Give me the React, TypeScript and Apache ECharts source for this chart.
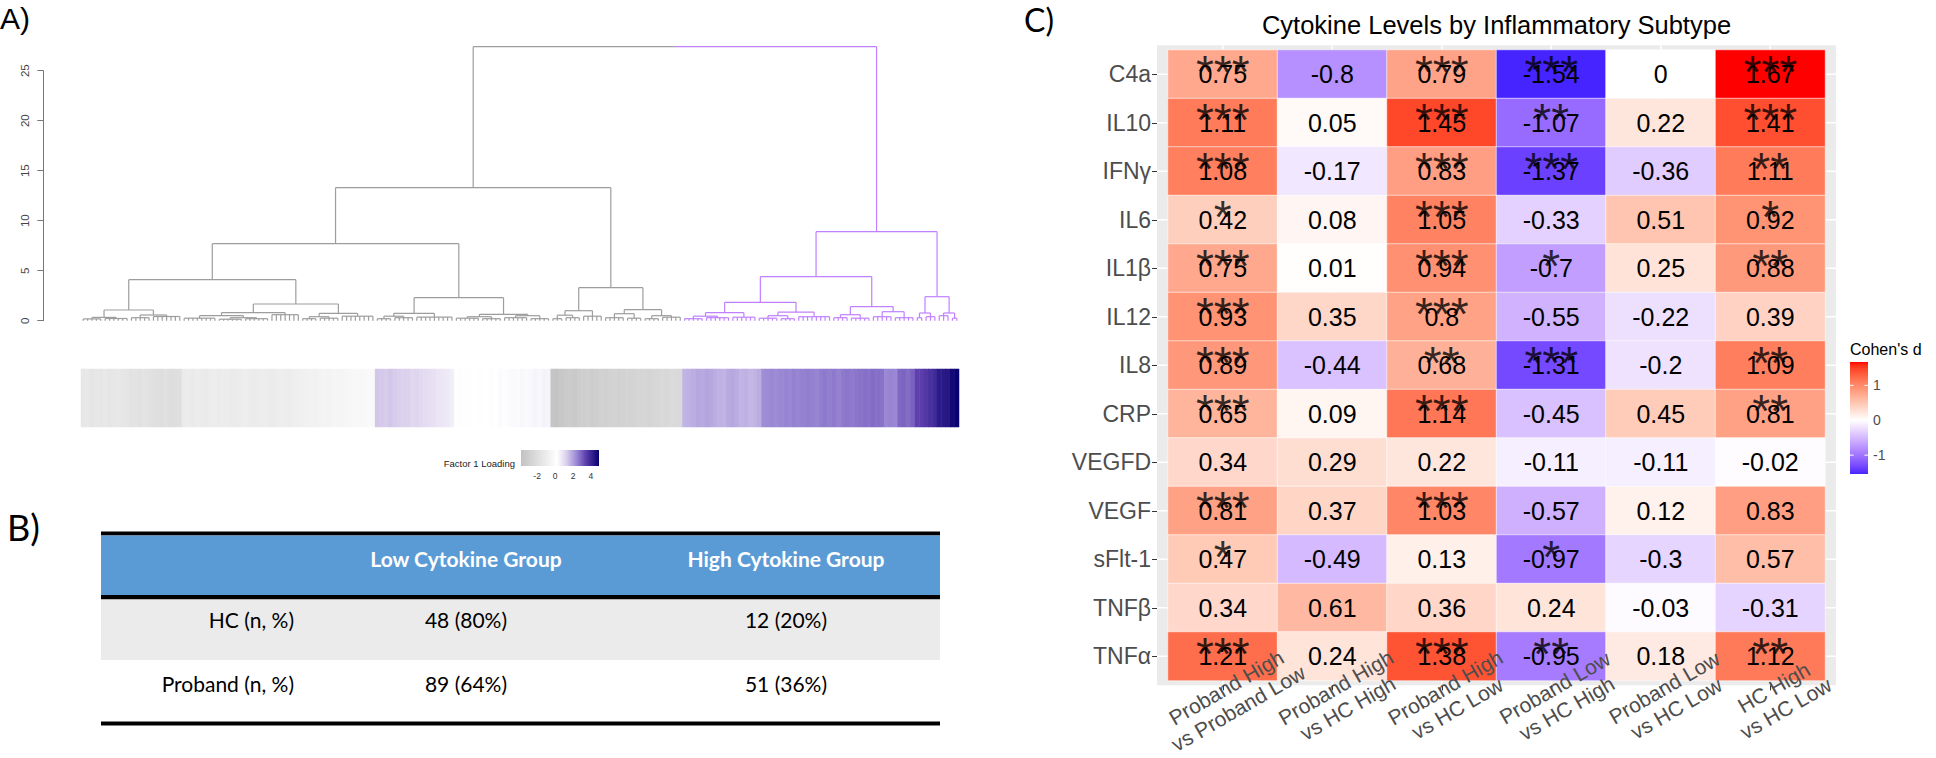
import React, { useEffect, useRef } from "react";
import * as echarts from "echarts";

const FONT = "'Liberation Sans', Arial, sans-serif";
const FONT_T = "Lato, 'Open Sans', sans-serif";

// ---------------- Panel A data ----------------
// merge node: [height, left, right]; terminal group: [height, nLeaves]
const dendrogramTree: any[] = [27.4,
  [13.3,
    [7.7,
      [4.1,
        [1.07, [0.33, [0.18, 5], [0.22, 6]], [0.57, [0.3, 5], [0.42, 7]]],
        [1.67,
          [0.8, [0.5, [0.25, 8], [0.3, [0.15, 6], [0.2, 6]]], [0.6, 7]],
          [0.74, [0.4, [0.2, 4], [0.25, 5]], [0.45, 8]]]],
      [2.3,
        [0.74, [0.45, [0.2, 4], [0.3, 5]], [0.35, 9]],
        [0.64, [0.4, [0.25, 6], [0.2, 5]], [0.5, [0.3, 6], [0.2, 5]]]]],
    [3.3,
      [1.0, [0.55, [0.2, 3], [0.3, 4]], [0.45, 5]],
      [1.1, [0.7, [0.3, 5], [0.25, 4]], [0.5, [0.2, 4], [0.35, 5]]]]],
  [8.9,
    [4.4,
      [1.84,
        [0.8, [0.45, [0.2, 5], [0.3, 6]], [0.35, 6]],
        [0.85, [0.5, [0.25, 5], [0.2, 4]], [0.4, 8]]],
      [1.4, [0.6, [0.3, 4], [0.25, 5]], [0.9, [0.4, 5], [0.3, 5]]]],
    [2.4, [0.77, [0.3, 2], [0.4, 3]], [0.77, [0.5, 3], [0.25, 2]]]]];

const clusterColors = ["#9d9d9d", "#c080ff"];
const dendroTicks = [0, 5, 10, 15, 20, 25];

const factorLoadings: number[] = [
  -1.4, -1.3, -1.5, -1.4, -1.45, -1.35, -1.5, -1.4, -1.3, -1.45, -1.5,
  -1.7, -1.65, -1.75, -1.6, -1.7, -1.8,
  -1.9, -2.0, -1.85, -1.95, -2.0, -1.9,
  -1.1, -1.0, -1.15, -1.05, -1.1, -1.2, -1.0, -0.95, -1.1, -1.05, -1.0, -1.15, -1.1, -1.0,
  -0.9, -1.05, -1.1, -1.0, -0.95, -1.05, -1.1, -1.0, -0.9, -0.95, -1.0, -0.9, -0.85,
  -0.75, -0.7, -0.65, -0.7, -0.6, -0.55, -0.6, -0.5, -0.45, -0.5, -0.4, -0.35, -0.3, -0.3, -0.25, -0.2, -0.2,
  1.4, 1.35, 1.3, 1.4, 1.3, 1.25, 1.2, 1.2, 1.1, 1.15, 1.05, 1.0, 0.95, 0.9, 0.8, 0.75, 0.7, 0.6,
  0.1, 0.05, 0.15, 0.1, 0.2, 0.1, 0.15, 0.2, 0.25, 0.2, 0.3, 0.25, 0.3, 0.35, 0.3, 0.4, 0.35, 0.4, 0.45, 0.4, 0.5, 0.45,
  -3.6, -3.7, -3.5, -3.3, -3.2, -3.35, -3.1, -3.0, -2.9, -3.05, -2.95, -2.85, -2.9, -2.8, -2.7,
  -2.85, -2.75, -2.6, -2.7, -2.65, -2.55, -2.5, -2.6, -2.45, -2.4, -2.3, -2.35, -2.25, -2.2, -2.3,
  1.7, 1.75, 1.8, 1.9, 1.85, 1.95, 1.9, 1.8, 1.75, 1.7, 1.85, 1.9, 1.8, 1.7, 1.75, 1.65, 1.7, 1.8,
  2.3, 2.35, 2.4, 2.35, 2.4, 2.45, 2.4, 2.5, 2.45, 2.5, 2.55, 2.5, 2.45, 2.55, 2.6, 2.55, 2.6, 2.5, 2.6, 2.65, 2.6, 2.65, 2.7,
  2.75, 2.7, 2.8, 2.75, 2.7,
  2.4, 2.45, 2.4,
  2.85, 2.9, 2.8, 2.95,
  3.4, 3.45, 3.6,
  3.75, 3.9,
  4.25, 4.3, 4.35,
  4.7, 4.85,
];

const loadingColorStops: [number, string][] = [
  [-3.8, "#c2c2c2"], [0.2, "#ffffff"], [1.2, "#ddd3ee"], [2.4, "#9a88d4"], [3.4, "#5e40ae"], [4.9, "#06006e"],
];
const loadingTicks = [-2, 0, 2, 4];

// ---------------- Panel B data ----------------
const tableHeaders = ["Low Cytokine Group", "High Cytokine Group"];
const tableRowLabels = ["HC (n, %)", "Proband (n, %)"];
const lowGroupCounts = ["48 (80%)", "89 (64%)"];
const highGroupCounts = ["12 (20%)", "51 (36%)"];

// ---------------- Panel C data ----------------
const cytokines = ["C4a", "IL10", "IFNγ", "IL6", "IL1β", "IL12", "IL8", "CRP", "VEGFD", "VEGF", "sFlt-1", "TNFβ", "TNFα"];
const comparisons = [
  "Proband High\nvs Proband Low",
  "Proband High\nvs HC High",
  "Proband High\nvs HC Low",
  "Proband Low\nvs HC High",
  "Proband Low\nvs HC Low",
  "HC High\nvs HC Low",
];
const cohensD: number[][] = [
  [0.75, -0.8, 0.79, -1.54, 0, 1.67],
  [1.11, 0.05, 1.45, -1.07, 0.22, 1.41],
  [1.08, -0.17, 0.83, -1.37, -0.36, 1.11],
  [0.42, 0.08, 1.05, -0.33, 0.51, 0.92],
  [0.75, 0.01, 0.94, -0.7, 0.25, 0.88],
  [0.93, 0.35, 0.8, -0.55, -0.22, 0.39],
  [0.89, -0.44, 0.68, -1.31, -0.2, 1.09],
  [0.65, 0.09, 1.14, -0.45, 0.45, 0.81],
  [0.34, 0.29, 0.22, -0.11, -0.11, -0.02],
  [0.81, 0.37, 1.03, -0.57, 0.12, 0.83],
  [0.47, -0.49, 0.13, -0.97, -0.3, 0.57],
  [0.34, 0.61, 0.36, 0.24, -0.03, -0.31],
  [1.21, 0.24, 1.38, -0.95, 0.18, 1.12],
];
const significance: string[][] = [
  ["***", "", "***", "***", "", "***"],
  ["***", "", "***", "**", "", "***"],
  ["***", "", "***", "***", "", "**"],
  ["*", "", "***", "", "", "*"],
  ["***", "", "***", "*", "", "**"],
  ["***", "", "***", "", "", ""],
  ["***", "", "**", "***", "", "**"],
  ["***", "", "***", "", "", "**"],
  ["", "", "", "", "", ""],
  ["***", "", "***", "", "", ""],
  ["*", "", "", "*", "", ""],
  ["", "", "", "", "", ""],
  ["***", "", "***", "**", "", "**"],
];
const cohenLegendTicks = [1, 0, -1];

// ---------------- colour helpers ----------------
function hexToRgb(hex: string): number[] {
  const h = hex.replace("#", "");
  return [0, 2, 4].map((i) => parseInt(h.slice(i, i + 2), 16));
}
function rgbToHex(rgb: number[]): string {
  return "#" + rgb.map((v) => Math.max(0, Math.min(255, Math.round(v))).toString(16).padStart(2, "0")).join("");
}
const toLin = (c: number) => { c /= 255; return c <= 0.04045 ? c / 12.92 : Math.pow((c + 0.055) / 1.055, 2.4); };
const fromLin = (c: number) => 255 * (c <= 0.0031308 ? 12.92 * c : 1.055 * Math.pow(c, 1 / 2.4) - 0.055);
const WREF = [0.95047, 1, 1.08883];
function rgbToLab(rgb: number[]): number[] {
  const [r, g, b] = rgb.map(toLin);
  const X = (0.4124564 * r + 0.3575761 * g + 0.1804375 * b) / WREF[0];
  const Y = (0.2126729 * r + 0.7151522 * g + 0.072175 * b) / WREF[1];
  const Z = (0.0193339 * r + 0.119192 * g + 0.9503041 * b) / WREF[2];
  const f = (t: number) => (t > 216 / 24389 ? Math.cbrt(t) : ((24389 / 27) * t + 16) / 116);
  const fx = f(X), fy = f(Y), fz = f(Z);
  return [116 * fy - 16, 500 * (fx - fy), 200 * (fy - fz)];
}
function labToRgb(lab: number[]): number[] {
  const [L, a, b] = lab;
  const fy = (L + 16) / 116, fx = fy + a / 500, fz = fy - b / 200;
  const inv = (t: number) => (t * t * t > 216 / 24389 ? t * t * t : (116 * t - 16) / (24389 / 27));
  const X = inv(fx) * WREF[0], Y = inv(fy) * WREF[1], Z = inv(fz) * WREF[2];
  const r = 3.2404542 * X - 1.5371385 * Y - 0.4985314 * Z;
  const g = -0.969266 * X + 1.8760108 * Y + 0.041556 * Z;
  const bb = 0.0556434 * X - 0.2040259 * Y + 1.0572252 * Z;
  return [r, g, bb].map((v) => fromLin(Math.max(0, Math.min(1, v))));
}
function labMix(c1: string, c2: string, t: number): string {
  const a = rgbToLab(hexToRgb(c1)), b = rgbToLab(hexToRgb(c2));
  return rgbToHex(labToRgb(a.map((v, i) => v + (b[i] - v) * t)));
}
const flatD = cohensD.flat();
const cMin = Math.min(...flatD), cMax = Math.max(...flatD);
const cAbs = Math.max(Math.abs(cMin), Math.abs(cMax));
function cohenColor(v: number): string {
  const t = v / (2 * cAbs) + 0.5;
  return t < 0.5 ? labMix("#0000ff", "#ffffff", t / 0.5) : labMix("#ffffff", "#ff0000", (t - 0.5) / 0.5);
}
function loadingColor(v: number): string {
  const s = loadingColorStops;
  if (v <= s[0][0]) return s[0][1];
  for (let i = 1; i < s.length; i++) {
    if (v <= s[i][0]) {
      const t = (v - s[i - 1][0]) / (s[i][0] - s[i - 1][0]);
      const a = hexToRgb(s[i - 1][1]), b = hexToRgb(s[i][1]);
      return rgbToHex(a.map((x, k) => x + (b[k] - x) * t));
    }
  }
  return s[s.length - 1][1];
}
const N_STOPS = 48;
const lMin = loadingColorStops[0][0], lMax = loadingColorStops[loadingColorStops.length - 1][0];
const loadingPalette = Array.from({ length: N_STOPS + 1 }, (_, k) => loadingColor(lMin + ((lMax - lMin) * k) / N_STOPS));
const cohenPalette = Array.from({ length: N_STOPS + 1 }, (_, k) => cohenColor(cMin + ((cMax - cMin) * k) / N_STOPS));

// ---------------- dendrogram layout (leaf index units, heights) ----------------
function buildSegments(tree: any[]) {
  const segs: number[][] = [];
  const walk = (node: any[], start: number, col: number): { x: number; h: number; n: number } => {
    if (node.length === 2) {
      const [h, n] = node as number[];
      const xs = Array.from({ length: n }, (_, k) => start + k + 0.5);
      if (n === 1) return { x: xs[0], h: 0, n: 1 };
      xs.forEach((x) => segs.push([x, 0, x, h, col]));
      segs.push([xs[0], h, xs[n - 1], h, col]);
      return { x: (xs[0] + xs[n - 1]) / 2, h, n };
    }
    const [h, a, b] = node;
    const L = walk(a, start, col);
    const R = walk(b, start + L.n, col);
    segs.push([L.x, L.h, L.x, h, col], [L.x, h, R.x, h, col], [R.x, R.h, R.x, h, col]);
    return { x: (L.x + R.x) / 2, h, n: L.n + R.n };
  };
  const [h, a, b] = tree;
  const L = walk(a, 0, 0);
  const R = walk(b, L.n, 1);
  const mid = (L.x + R.x) / 2;
  segs.push([L.x, L.h, L.x, h, 0], [L.x, h, mid, h, 0], [mid, h, R.x, h, 1], [R.x, R.h, R.x, h, 1]);
  return { segs, nLeaves: L.n + R.n };
}

// ---------------- layout ----------------
const A_LEFT = 81, A_W = 878, D_TOP = 70.7, D_H = 250, S_TOP = 369, S_H = 58;
const C_LEFT = 1168, C_TOP = 50, C_W = 657, C_H = 630.5;
const colW = C_W / comparisons.length, rowH = C_H / cytokines.length;

function buildOption() {
  const { segs, nLeaves } = buildSegments(dendrogramTree);
  const stripData = factorLoadings.map((v, i) => [i, 0, v]);
  const heatData: any[] = [];
  const starData: any[] = [];
  cytokines.forEach((_, r) => comparisons.forEach((_, c) => {
    heatData.push([c, r, cohensD[r][c]]);
    if (significance[r][c]) starData.push({ value: [c, r], stars: significance[r][c] });
  }));

  const graphics: any[] = [];
  graphics.push({ type: "text", x: 0, y: 18, style: { text: "A)", font: `30px ${FONT}`, fill: "#000", verticalAlign: "middle" } });
  graphics.push({ type: "text", x: 7, y: 527, style: { text: "B)", font: `36px ${FONT_T}`, fill: "#000", verticalAlign: "middle" } });
  graphics.push({ type: "text", x: 1024, y: 19, style: { text: "C)", font: `32px ${FONT_T}`, fill: "#000", verticalAlign: "middle" } });
  graphics.push({ type: "text", x: C_LEFT + C_W / 2, y: 25, style: { text: "Cytokine Levels by Inflammatory Subtype", font: `25.5px ${FONT}`, fill: "#000", align: "center", verticalAlign: "middle" } });

  // Factor 1 Loading legend
  const LB_X = 521, LB_Y = 450, LB_W = 78, LB_H = 16;
  graphics.push({ type: "text", x: LB_X - 6, y: 463, style: { text: "Factor 1 Loading", font: `9.5px ${FONT}`, fill: "#222", align: "right", verticalAlign: "middle" } });
  graphics.push({ type: "rect", shape: { x: LB_X, y: LB_Y, width: LB_W, height: LB_H },
    style: { fill: new echarts.graphic.LinearGradient(0, 0, 1, 0, loadingPalette.map((c, k) => ({ offset: k / N_STOPS, color: c }))) } });
  loadingTicks.forEach((t) => {
    const x = LB_X + ((t - lMin) / (lMax - lMin)) * LB_W;
    graphics.push({ type: "text", x, y: 476, style: { text: String(t), font: `8.5px ${FONT}`, fill: "#333", align: "center", verticalAlign: "middle" } });
  });

  // Panel B table
  const T_L = 101, T_R = 940;
  const colCenters = [466, 786];
  graphics.push({ type: "rect", shape: { x: T_L, y: 531.5, width: T_R - T_L, height: 4 }, style: { fill: "#000" } });
  graphics.push({ type: "rect", shape: { x: T_L, y: 535.5, width: T_R - T_L, height: 59.5 }, style: { fill: "#5b9bd5" } });
  graphics.push({ type: "rect", shape: { x: T_L, y: 595, width: T_R - T_L, height: 4.5 }, style: { fill: "#000" } });
  graphics.push({ type: "rect", shape: { x: T_L, y: 599.5, width: T_R - T_L, height: 60.5 }, style: { fill: "#ebebeb" } });
  graphics.push({ type: "rect", shape: { x: T_L, y: 721.5, width: T_R - T_L, height: 4 }, style: { fill: "#000" } });
  tableHeaders.forEach((h, i) => graphics.push({ type: "text", x: colCenters[i], y: 558,
    style: { text: h, font: `bold 21px ${FONT_T}`, fill: "#fff", align: "center", verticalAlign: "middle" } }));
  const rowYs = [619, 683];
  tableRowLabels.forEach((lab, r) => {
    graphics.push({ type: "text", x: 294, y: rowYs[r], style: { text: lab, font: `21px ${FONT_T}`, fill: "#000", align: "right", verticalAlign: "middle" } });
    graphics.push({ type: "text", x: colCenters[0], y: rowYs[r], style: { text: lowGroupCounts[r], font: `21px ${FONT_T}`, fill: "#000", align: "center", verticalAlign: "middle" } });
    graphics.push({ type: "text", x: colCenters[1], y: rowYs[r], style: { text: highGroupCounts[r], font: `21px ${FONT_T}`, fill: "#000", align: "center", verticalAlign: "middle" } });
  });

  // Cohen's d legend
  const CB_X = 1850, CB_Y = 362, CB_W = 18, CB_H = 112;
  graphics.push({ type: "text", x: CB_X, y: 349, style: { text: "Cohen's d", font: `16px ${FONT}`, fill: "#000", verticalAlign: "middle" } });
  graphics.push({ type: "rect", shape: { x: CB_X, y: CB_Y, width: CB_W, height: CB_H },
    style: { fill: new echarts.graphic.LinearGradient(0, 1, 0, 0, cohenPalette.map((c, k) => ({ offset: k / N_STOPS, color: c }))) } });
  cohenLegendTicks.forEach((t) => {
    const y = CB_Y + ((cMax - t) / (cMax - cMin)) * CB_H;
    graphics.push({ type: "line", shape: { x1: CB_X, y1: y, x2: CB_X + CB_W / 5, y2: y }, style: { stroke: "#fff", lineWidth: 1 } });
    graphics.push({ type: "line", shape: { x1: CB_X + CB_W - CB_W / 5, y1: y, x2: CB_X + CB_W, y2: y }, style: { stroke: "#fff", lineWidth: 1 } });
    graphics.push({ type: "text", x: CB_X + CB_W + 5, y, style: { text: String(t), font: `14px ${FONT}`, fill: "#4d4d4d", verticalAlign: "middle" } });
  });

  const gridBase = { containLabel: false, outerBoundsMode: "none" };
  return {
    animation: false,
    textStyle: { fontFamily: FONT },
    grid: [
      { ...gridBase, left: A_LEFT, top: D_TOP, width: A_W, height: D_H },
      { ...gridBase, left: A_LEFT, top: S_TOP, width: A_W, height: S_H },
      { ...gridBase, left: C_LEFT, top: C_TOP, width: C_W, height: C_H },
    ],
    xAxis: [
      { type: "value", gridIndex: 0, min: 0, max: nLeaves, show: false },
      { type: "category", gridIndex: 1, data: factorLoadings.map((_, i) => String(i)), show: false },
      {
        type: "category", gridIndex: 2, data: comparisons, offset: rowH * 0.1, z: 10,
        axisLine: { show: false },
        axisTick: { show: true, alignWithLabel: true, length: 5, lineStyle: { color: "#333" } },
        axisLabel: { interval: 0, rotate: 30, fontSize: 21, color: "#4d4d4d", fontFamily: FONT, lineHeight: 24, margin: 18,
          align: "center", verticalAlign: "middle", padding: [13, 0, 0, 22] },
        splitLine: { show: false },
      },
    ],
    yAxis: [
      {
        type: "value", gridIndex: 0, min: 0, max: 25, interval: 5, offset: A_LEFT - 43.3,
        axisLine: { show: true, onZero: false, lineStyle: { color: "#777", width: 1 } },
        axisTick: { show: true, length: 6, lineStyle: { color: "#777" } },
        axisLabel: { rotate: 90, fontSize: 11.5, color: "#444", margin: 12, align: "center", verticalAlign: "bottom",
          customValues: dendroTicks },
        splitLine: { show: false },
      },
      { type: "category", gridIndex: 1, data: ["Factor 1 Loading"], show: false },
      {
        type: "category", gridIndex: 2, data: cytokines, inverse: true, offset: colW * 0.1,
        axisLine: { show: false },
        axisTick: { show: true, alignWithLabel: true, length: 5, lineStyle: { color: "#333" } },
        axisLabel: { fontSize: 23, color: "#4d4d4d", fontFamily: FONT, margin: 6 },
        splitLine: { show: false },
      },
    ],
    visualMap: [
      { type: "continuous", show: false, seriesIndex: 1, dimension: 2, min: lMin, max: lMax, inRange: { color: loadingPalette } },
      { type: "continuous", show: false, seriesIndex: 3, dimension: 2, min: cMin, max: cMax, inRange: { color: cohenPalette } },
    ],
    graphic: graphics,
    series: [
      {
        type: "custom", xAxisIndex: 0, yAxisIndex: 0, clip: false, silent: true, data: segs,
        renderItem: (_p: any, api: any) => {
          const p1 = api.coord([api.value(0), api.value(1)]);
          const p2 = api.coord([api.value(2), api.value(3)]);
          return { type: "line", shape: { x1: p1[0], y1: p1[1], x2: p2[0], y2: p2[1] },
            style: { stroke: clusterColors[api.value(4)], lineWidth: 1.2 } };
        },
      },
      { type: "heatmap", xAxisIndex: 1, yAxisIndex: 1, data: stripData, silent: true, itemStyle: { borderWidth: 0 } },
      {
        type: "custom", xAxisIndex: 2, yAxisIndex: 2, clip: false, silent: true, z: 1, data: [0],
        renderItem: (params: any, api: any) => {
          const cs = params.coordSys;
          const px = colW * 0.1, py = rowH * 0.1;
          const ch: any[] = [{ type: "rect", shape: { x: cs.x - px, y: cs.y - py, width: cs.width + 2 * px, height: cs.height + 2 * py }, style: { fill: "#ebebeb" } }];
          comparisons.forEach((_, i) => {
            const p = api.coord([i, 0]);
            ch.push({ type: "line", shape: { x1: p[0], y1: cs.y - py, x2: p[0], y2: cs.y + cs.height + py }, style: { stroke: "#fff", lineWidth: 1.5 } });
          });
          cytokines.forEach((_, j) => {
            const p = api.coord([0, j]);
            ch.push({ type: "line", shape: { x1: cs.x - px, y1: p[1], x2: cs.x + cs.width + px, y2: p[1] }, style: { stroke: "#fff", lineWidth: 1.5 } });
          });
          return { type: "group", children: ch };
        },
      },
      {
        type: "heatmap", xAxisIndex: 2, yAxisIndex: 2, data: heatData, silent: true, z: 2,
        itemStyle: { borderColor: "rgba(255,255,255,0.55)", borderWidth: 1 },
        label: { show: true, fontSize: 25, color: "#000", fontFamily: FONT, formatter: (p: any) => String(p.value[2]) },
      },
      {
        type: "scatter", xAxisIndex: 2, yAxisIndex: 2, data: starData, silent: true, z: 3, symbolSize: 1,
        itemStyle: { color: "rgba(0,0,0,0)" },
        label: { show: true, position: "inside", offset: [0, -2.5], fontSize: 46, color: "#000", fontFamily: FONT, formatter: (p: any) => p.data.stars },
      },
    ],
  };
}

export default function App() {
  const ref = useRef<HTMLDivElement>(null);
  useEffect(() => {
    document.body.style.margin = "0";
    if (!ref.current) return;
    const chart = echarts.init(ref.current, undefined, { renderer: "svg" });
    chart.setOption(buildOption() as any);
    return () => chart.dispose();
  }, []);
  return <div ref={ref} style={{ width: 1936, height: 758, background: "#fff" }} />;
}
